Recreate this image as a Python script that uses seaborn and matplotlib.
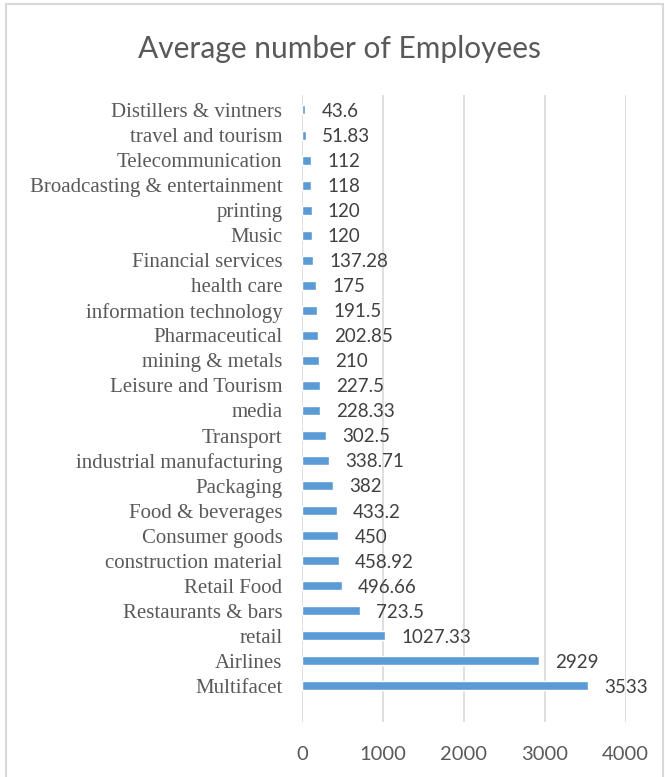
import seaborn as sns
import matplotlib.pyplot as plt
import pandas as pd
from matplotlib.patches import Rectangle

# categories top to bottom, as shown in the chart
industries = [
    "Distillers & vintners", "travel and tourism", "Telecommunication",
    "Broadcasting & entertainment", "printing", "Music", "Financial services",
    "health care", "information technology", "Pharmaceutical", "mining & metals",
    "Leisure and Tourism", "media", "Transport", "industrial manufacturing",
    "Packaging", "Food & beverages", "Consumer goods", "construction material",
    "Retail Food", "Restaurants & bars", "retail", "Airlines", "Multifacet",
]
employees = [
    43.6, 51.83, 112, 118, 120, 120, 137.28, 175, 191.5, 202.85, 210,
    227.5, 228.33, 302.5, 338.71, 382, 433.2, 450, 458.92, 496.66,
    723.5, 1027.33, 2929, 3533,
]
value_labels = [
    "43.6", "51.83", "112", "118", "120", "120", "137.28", "175", "191.5",
    "202.85", "210", "227.5", "228.33", "302.5", "338.71", "382", "433.2",
    "450", "458.92", "496.66", "723.5", "1027.33", "2929", "3533",
]
x_ticks = [0, 1000, 2000, 3000, 4000]

df = pd.DataFrame({"industry": industries, "employees": employees})

sns.set_style("white")
plt.rcParams["font.family"] = ["Lato", "DejaVu Sans"]

text_gray = "#595959"
fig = plt.figure(figsize=(6.65, 7.77), dpi=100)
ax = fig.add_axes([0.454, 0.0708, 0.487, 0.807])

sns.barplot(data=df, x="employees", y="industry", orient="h",
            color="#5B9BD5", saturation=1, width=0.36, ax=ax)

# value labels to the right of each bar
for i, (v, lab) in enumerate(zip(employees, value_labels)):
    ax.annotate(lab, xy=(v, i), xytext=(11.5, -1), textcoords="offset points",
                ha="left", va="center", fontsize=13.5, color="#404040")

ax.set_xlim(0, 4000)
ax.set_ylim(24.44, -0.6)
ax.set_xticks(x_ticks)
ax.set_xticklabels([str(t) for t in x_ticks], fontsize=14.5, color=text_gray)
ax.set_xlabel("")
ax.set_ylabel("")
for t in ax.get_yticklabels():
    t.set_fontfamily("Liberation Serif")
    t.set_fontsize(15)
    t.set_color(text_gray)
ax.tick_params(axis="both", length=0)
ax.tick_params(axis="y", pad=14)
ax.tick_params(axis="x", pad=17)
ax.grid(axis="x", color="#D9D9D9", linewidth=1.2)
ax.set_axisbelow(True)
for s in ax.spines.values():
    s.set_visible(False)

fig.text(0.51, 0.925, "Average number of Employees", ha="center", va="baseline",
         fontsize=21.5, color=text_gray)

# chart border
fig.patches.append(Rectangle((0.009, -0.01), 0.988, 1.005, transform=fig.transFigure,
                             fill=False, edgecolor="#D9D9D9", linewidth=1.5))

fig.savefig("out.png", dpi=100)
